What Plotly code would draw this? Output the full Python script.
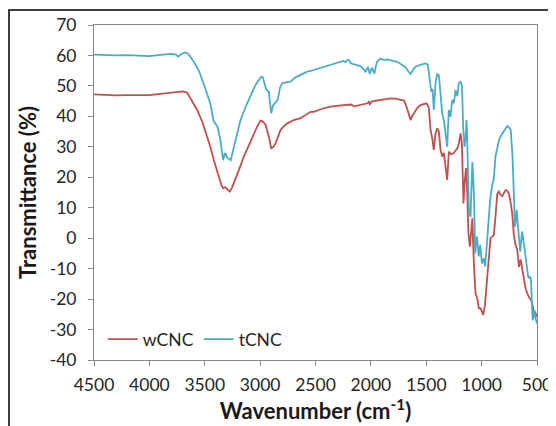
import plotly.graph_objects as go

# FTIR spectra
wcnc_x = [4500, 4400, 4300, 4200, 4100, 4000, 3900, 3800, 3750, 3700, 3660, 3620, 3568, 3520, 3478,
          3450, 3418, 3395, 3373, 3350, 3334, 3315, 3297, 3285, 3274, 3255, 3238, 3190, 3147, 3110,
          3071, 3030, 2996, 2975, 2951, 2935, 2921, 2900, 2880, 2861, 2840, 2816, 2785, 2755, 2696,
          2635, 2545, 2515, 2440, 2364, 2290, 2214, 2180, 2150, 2094, 2050, 2030, 2019, 2010, 1990,
          1950, 1913, 1870, 1823, 1780, 1732, 1700, 1672, 1655, 1642, 1625, 1612, 1580, 1552, 1520,
          1498, 1485, 1477, 1461, 1446, 1432, 1416, 1401, 1386, 1371, 1356, 1341, 1326, 1311, 1296,
          1275, 1250, 1220, 1206, 1190, 1178, 1170, 1164, 1154, 1141, 1130, 1120, 1106, 1095, 1084,
          1070, 1055, 1040, 1025, 1010, 986, 970, 950, 935, 920, 905, 890, 875, 859, 845,
          829, 814, 795, 784, 770, 754, 735, 724, 709, 695, 678, 663, 648, 633, 619,
          603, 588, 571, 555, 543, 530, 513, 500]
wcnc_y = [47.2, 47.0, 46.9, 47.0, 47.1, 47.0, 47.4, 47.8, 47.9, 48.2, 47.8, 45.5, 42.1, 38.0, 33.3,
          30.0, 25.7, 22.5, 20.2, 17.5, 16.4, 16.8, 16.2, 16.0, 15.3, 16.5, 18.0, 22.5, 26.8, 30.0,
          33.3, 36.4, 38.6, 38.3, 37.2, 35.5, 33.3, 29.5, 30.0, 31.1, 33.5, 35.5, 36.8, 37.7, 38.8,
          39.4, 41.5, 41.5, 42.5, 43.2, 43.5, 43.7, 43.9, 43.3, 43.8, 44.0, 44.3, 44.8, 44.0, 44.9,
          45.2, 45.4, 45.7, 45.9, 45.8, 45.5, 45.2, 42.5, 40.0, 38.8, 40.2, 41.0, 42.8, 43.7, 44.2,
          44.3, 43.5, 42.7, 35.5, 32.8, 29.0, 34.4, 36.1, 35.0, 29.0, 26.8, 28.0, 24.0, 19.1, 28.4,
          27.5, 28.0, 29.5, 31.0, 34.4, 31.0, 20.0, 11.4, 18.0, 23.0, 15.0, 2.0, -2.8, 3.0, 6.5,
          -8.3, -18.1, -19.7, -23.0, -23.0, -25.2, -22.0, -13.7, -5.0, 0.0, 0.5, 1.0, 7.0, 14.5, 15.3,
          14.2, 13.8, 15.2, 15.8, 15.6, 14.7, 11.0, 8.2, 1.0, -2.0, -3.9, -9.4, -7.0, -10.0, -12.6,
          -16.5, -18.1, -19.5, -20.2, -21.5, -24.0, -24.6, -25.9]

tcnc_x = [4500, 4400, 4300, 4200, 4100, 4000, 3900, 3800, 3760, 3740, 3710, 3680, 3650, 3600, 3550,
          3510, 3480, 3450, 3420, 3400, 3385, 3360, 3345, 3334, 3322, 3313, 3300, 3280, 3265, 3240,
          3210, 3177, 3117, 3042, 2990, 2975, 2965, 2945, 2922, 2910, 2900, 2885, 2860, 2840, 2820,
          2800, 2760, 2726, 2680, 2635, 2575, 2545, 2500, 2425, 2350, 2274, 2250, 2229, 2210, 2199,
          2185, 2168, 2130, 2094, 2060, 2048, 2035, 2027, 2018, 2009, 1998, 1988, 1977, 1967, 1955,
          1943, 1913, 1880, 1852, 1820, 1790, 1762, 1720, 1690, 1665, 1642, 1620, 1597, 1560, 1530,
          1507, 1486, 1475, 1468, 1455, 1443, 1432, 1416, 1401, 1386, 1371, 1356, 1341, 1326, 1311,
          1296, 1281, 1265, 1250, 1236, 1220, 1206, 1190, 1180, 1175, 1166, 1154, 1145, 1136, 1130,
          1124, 1115, 1100, 1092, 1084, 1076, 1068, 1058, 1050, 1042, 1026, 1013, 997, 981, 968,
          955, 949, 935, 923, 907, 890, 875, 843, 820, 795, 769, 750, 737, 721, 709,
          699, 690, 683, 675, 667, 651, 643, 635, 619, 605, 593, 580, 571, 560, 555,
          545, 539, 530, 523, 512, 500]
tcnc_y = [60.3, 60.1, 60.0, 60.1, 60.0, 59.8, 60.2, 60.5, 60.3, 59.6, 60.5, 61.0, 60.6, 58.0, 54.8,
          50.8, 47.8, 44.3, 38.5, 37.2, 36.6, 32.5, 28.5, 25.6, 27.5, 28.0, 26.5, 25.9, 25.6, 29.5,
          34.0, 38.8, 44.3, 50.3, 53.0, 52.8, 51.4, 48.8, 48.1, 45.0, 41.0, 43.5, 44.5, 45.5, 49.5,
          50.9, 51.2, 51.4, 52.8, 53.6, 54.7, 54.9, 55.4, 56.3, 57.0, 57.9, 58.2, 57.8, 58.6, 58.5,
          57.6, 57.2, 56.9, 56.5, 55.3, 54.5, 55.6, 56.3, 55.0, 53.9, 55.5, 55.8, 54.6, 54.3, 56.5,
          58.0, 59.0, 58.5, 58.7, 58.3, 58.1, 57.9, 56.8, 56.2, 55.0, 53.9, 55.2, 56.3, 56.8, 57.2,
          57.4, 57.0, 54.0, 50.9, 48.1, 49.0, 42.1, 50.9, 53.9, 53.5, 47.6, 41.0, 38.8, 33.9, 30.0,
          42.1, 39.9, 45.4, 44.3, 48.7, 46.6, 50.9, 51.4, 50.5, 47.6, 35.5, 30.0, 33.0, 38.8, 32.0,
          24.0, 9.3, 7.0, 15.0, 25.0, 20.0, 12.5, -5.0, -1.0, 0.5, -6.0, -2.2, -8.3, -6.6, -9.3,
          -3.0, -0.6, 8.0, 12.5, 17.0, 19.5, 26.8, 32.2, 34.0, 35.5, 36.8, 36.3, 35.5, 26.8, 12.5,
          3.8, 6.5, 9.3, 5.0, 1.6, -4.4, -1.0, 2.2, -1.7, -6.0, -9.3, -12.6, -13.0, -12.8, -13.5,
          -22.0, -27.0, -25.5, -23.6, -26.5, -28.0]

x_ticks = [4500, 4000, 3500, 3000, 2500, 2000, 1500, 1000, 500]
y_ticks = [-40, -30, -20, -10, 0, 10, 20, 30, 40, 50, 60, 70]

fig = go.Figure()
fig.add_trace(go.Scatter(x=wcnc_x, y=wcnc_y, mode='lines', name='wCNC',
                         line=dict(color='#C0504D', width=1.8)))
fig.add_trace(go.Scatter(x=tcnc_x, y=tcnc_y, mode='lines', name='tCNC',
                         line=dict(color='#4BACC6', width=1.8)))

axis = dict(showgrid=False, zeroline=False, showline=True, mirror=True, automargin=False,
            linecolor='#898989', linewidth=1, ticks='outside', ticklen=5,
            tickcolor='#898989', tickfont=dict(family='Lato', size=17.5, color='#262626'))

title_font = dict(family='Lato', size=22, color='#1a1a1a')

# the page body adds an 8px offset, so the figure is 8px smaller than the window
W, H = 548, 418
L, T, R, B = 86, 17, 19, 66

fig.update_layout(
    width=W, height=H,
    margin=dict(l=L, r=R, t=T, b=B),
    paper_bgcolor='white', plot_bgcolor='white',
    font=dict(family='Lato', color='#262626'),
    xaxis=dict(axis, range=[4500, 500], tickvals=x_ticks,
               ticktext=[str(v) for v in x_ticks], ticklabelstandoff=4,
               title=dict(text='<b>Wavenumber (cm<sup>-1</sup>)</b>', font=title_font, standoff=2)),
    yaxis=dict(axis, range=[-40, 70], tickvals=y_ticks,
               ticktext=[str(v) for v in y_ticks], ticklabelstandoff=8,
               title=dict(text='<b>Transmittance (%)</b>', font=title_font, standoff=6)),
    showlegend=True,
    legend=dict(orientation='h', x=0.02, y=0.062, xanchor='left', yanchor='middle',
                bgcolor='rgba(0,0,0,0)', font=dict(family='Lato', size=17.5, color='#262626'),
                itemwidth=30, tracegroupgap=0),
)

# outer frame of the picture (top and left edges visible)
pw, ph = W - L - R, H - T - B
fig.add_shape(type='rect', xref='paper', yref='paper',
              x0=(1 - L) / pw, x1=(W + 10 - L) / pw,
              y0=-(B + 20) / ph, y1=(ph + T - 2) / ph,
              line=dict(color='black', width=1.5), layer='below')

fig.write_html("out.html")
